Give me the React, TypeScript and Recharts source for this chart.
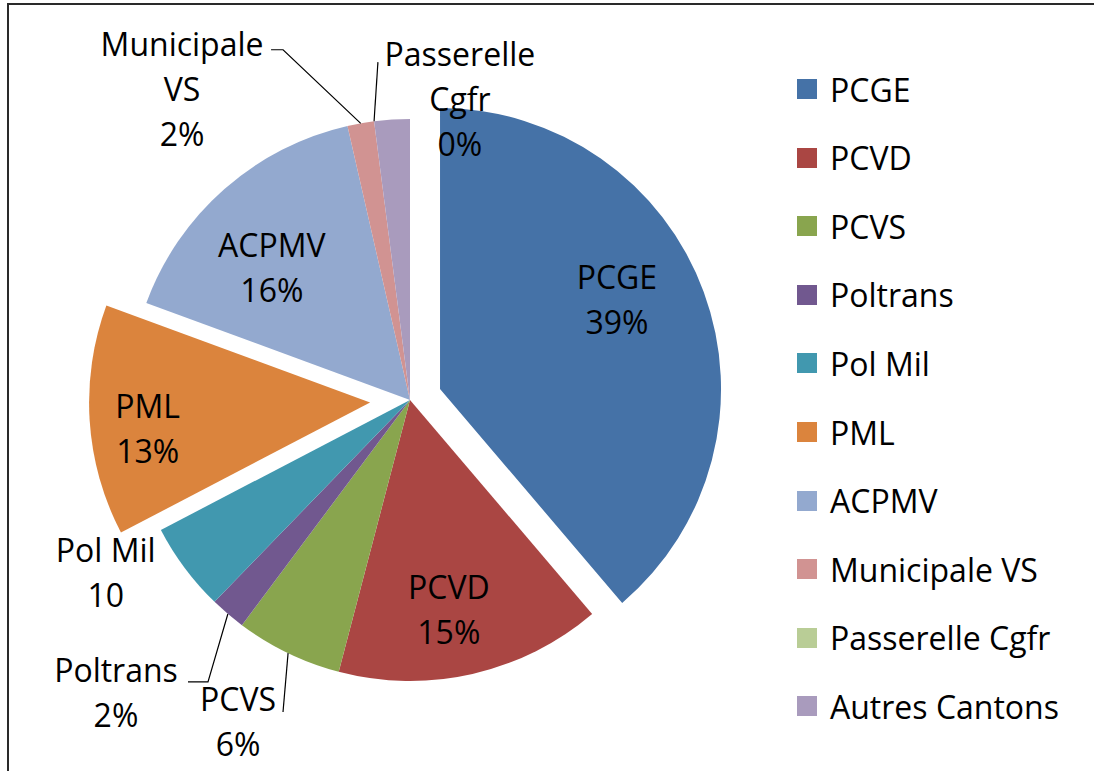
import React from 'react';
import { PieChart, Pie, Cell } from 'recharts';

// categories in chart order (clockwise from 12 o'clock)
const categories = [
  'PCGE',
  'PCVD',
  'PCVS',
  'Poltrans',
  'Pol Mil',
  'PML',
  'ACPMV',
  'Municipale VS',
  'Passerelle Cgfr',
  'Autres Cantons',
];
const counts = [76, 30, 12, 4, 10, 26, 31, 3, 0, 4];
const colors = [
  '#4572A7',
  '#AA4643',
  '#89A54E',
  '#71588F',
  '#4198AF',
  '#DB843D',
  '#93A9CF',
  '#D19392',
  '#B9CD96',
  '#A99BBD',
];

const data = categories.map((name, i) => ({ name, value: counts[i] }));

const W = 1094;
const H = 771;
const CX = 410;
const CY = 400;
const R = 281;
const FONT = "'Open Sans', sans-serif";
const FS = 32;
const LH = 45;

// exploded slices and their pull-out distance
const explode: Record<string, number> = { PCGE: 32, PML: 40 };

// label placement around slice centre: radius px, angle shift (deg) from the slice mid angle,
// leader points given relative to the label centre
type LabelCfg = {
  r: number;
  da: number;
  wrap?: boolean;
  showValue?: boolean;
  leader?: [number, number][];
};
const labelCfg: Record<string, LabelCfg> = {
  PCGE: { r: 198, da: -6.5 },
  PCVD: { r: 214, da: 2.4 },
  PCVS: { r: 365, da: 2.4, leader: [[45, -10]] },
  Poltrans: { r: 415, da: 4.7, leader: [[92, -11], [72, -11]] },
  'Pol Mil': { r: 350, da: 7.1, showValue: true },
  PML: { r: 224, da: -3.2 },
  ACPMV: { r: 191, da: -5 },
  'Municipale VS': { r: 385, da: -26.2, wrap: true, leader: [[101, -40], [89, -40]] },
  'Passerelle Cgfr': { r: 304, da: 16.8, wrap: true, leader: [[-82, -38]] },
};

const total = counts.reduce((a, b) => a + b, 0);
// clockwise-from-top mid angle of every slice
const midAngles = counts.map((v, i) => {
  const before = counts.slice(0, i).reduce((a, b) => a + b, 0);
  return ((before + v / 2) / total) * 360;
});

const polar = (cx: number, cy: number, r: number, deg: number): [number, number] => {
  const a = (deg * Math.PI) / 180;
  return [cx + r * Math.sin(a), cy - r * Math.cos(a)];
};

const centreOf = (i: number) => polar(CX, CY, explode[categories[i]] || 0, midAngles[i]);

const makeLabel = (group: string[]) => (props: any) => {
  const i = props.index;
  const name = categories[i];
  const cfg = labelCfg[name];
  if (!group.includes(name) || !cfg) return null;
  const [cx, cy] = centreOf(i);
  const [lx, ly] = polar(cx, cy, cfg.r, midAngles[i] + cfg.da);
  const pct = `${Math.round((counts[i] / total) * 100)}%`;
  const lines = cfg.wrap
    ? [...name.split(' '), pct]
    : [name, cfg.showValue ? String(counts[i]) : pct];
  const y0 = ly - ((lines.length - 1) * LH) / 2;
  let leader = null;
  if (cfg.leader) {
    const start = polar(cx, cy, R, midAngles[i]);
    const pts = [start, ...cfg.leader.map(([dx, dy]) => [lx + dx, ly + dy])];
    leader = (
      <polyline
        points={pts.map((p) => p.join(',')).join(' ')}
        fill="none"
        stroke="#000"
        strokeWidth={1.2}
      />
    );
  }
  return (
    <g key={`lbl-${i}`}>
      {leader}
      <text textAnchor="middle" fontFamily={FONT} fontSize={FS} fill="#000">
        {lines.map((t, k) => (
          <tspan key={k} x={lx} y={y0 + k * LH} dy="0.35em">
            {t}
          </tspan>
        ))}
      </text>
    </g>
  );
};

const mainGroup = categories.filter((c) => !explode[c]);
const groups: string[][] = [mainGroup, ...Object.keys(explode).map((c) => [c])];

export default function App() {
  return (
    <div style={{ position: 'relative', width: W, height: H, overflow: 'hidden', background: '#fff' }}>
      <style>{'body{margin:0}'}</style>
      <div
        style={{
          position: 'absolute',
          left: 7,
          top: 3,
          width: W + 20,
          height: H + 20,
          borderLeft: '2px solid #2a2a2a',
          borderTop: '2px solid #2a2a2a',
        }}
      />
      <div style={{ position: 'absolute', left: 0, top: 0 }}>
        <PieChart width={W} height={H} margin={{ top: 0, right: 0, bottom: 0, left: 0 }}>
          {groups.map((g, gi) => {
            const anchor = gi === 0 ? null : categories.indexOf(g[0]);
            const [cx, cy] = anchor === null ? [CX, CY] : centreOf(anchor);
            return (
              <Pie
                key={gi}
                data={data}
                dataKey="value"
                nameKey="name"
                cx={cx}
                cy={cy}
                outerRadius={R}
                startAngle={90}
                endAngle={-270}
                stroke="none"
                isAnimationActive={false}
                labelLine={false}
                label={makeLabel(g)}
              >
                {data.map((d, i) => (
                  <Cell key={i} fill={g.includes(d.name) ? colors[i] : 'none'} stroke="none" />
                ))}
              </Pie>
            );
          })}
        </PieChart>
      </div>
      <div style={{ position: 'absolute', left: 797, top: 0, fontFamily: FONT, fontSize: FS, color: '#000' }}>
        {categories.map((c, i) => (
          <div
            key={c}
            style={{
              position: 'absolute',
              top: 89 + i * 68.6 - 20,
              height: 40,
              display: 'flex',
              alignItems: 'center',
              whiteSpace: 'nowrap',
            }}
          >
            <span style={{ width: 20, height: 20, background: colors[i], display: 'inline-block', marginRight: 13 }} />
            <span>{c}</span>
          </div>
        ))}
      </div>
    </div>
  );
}
